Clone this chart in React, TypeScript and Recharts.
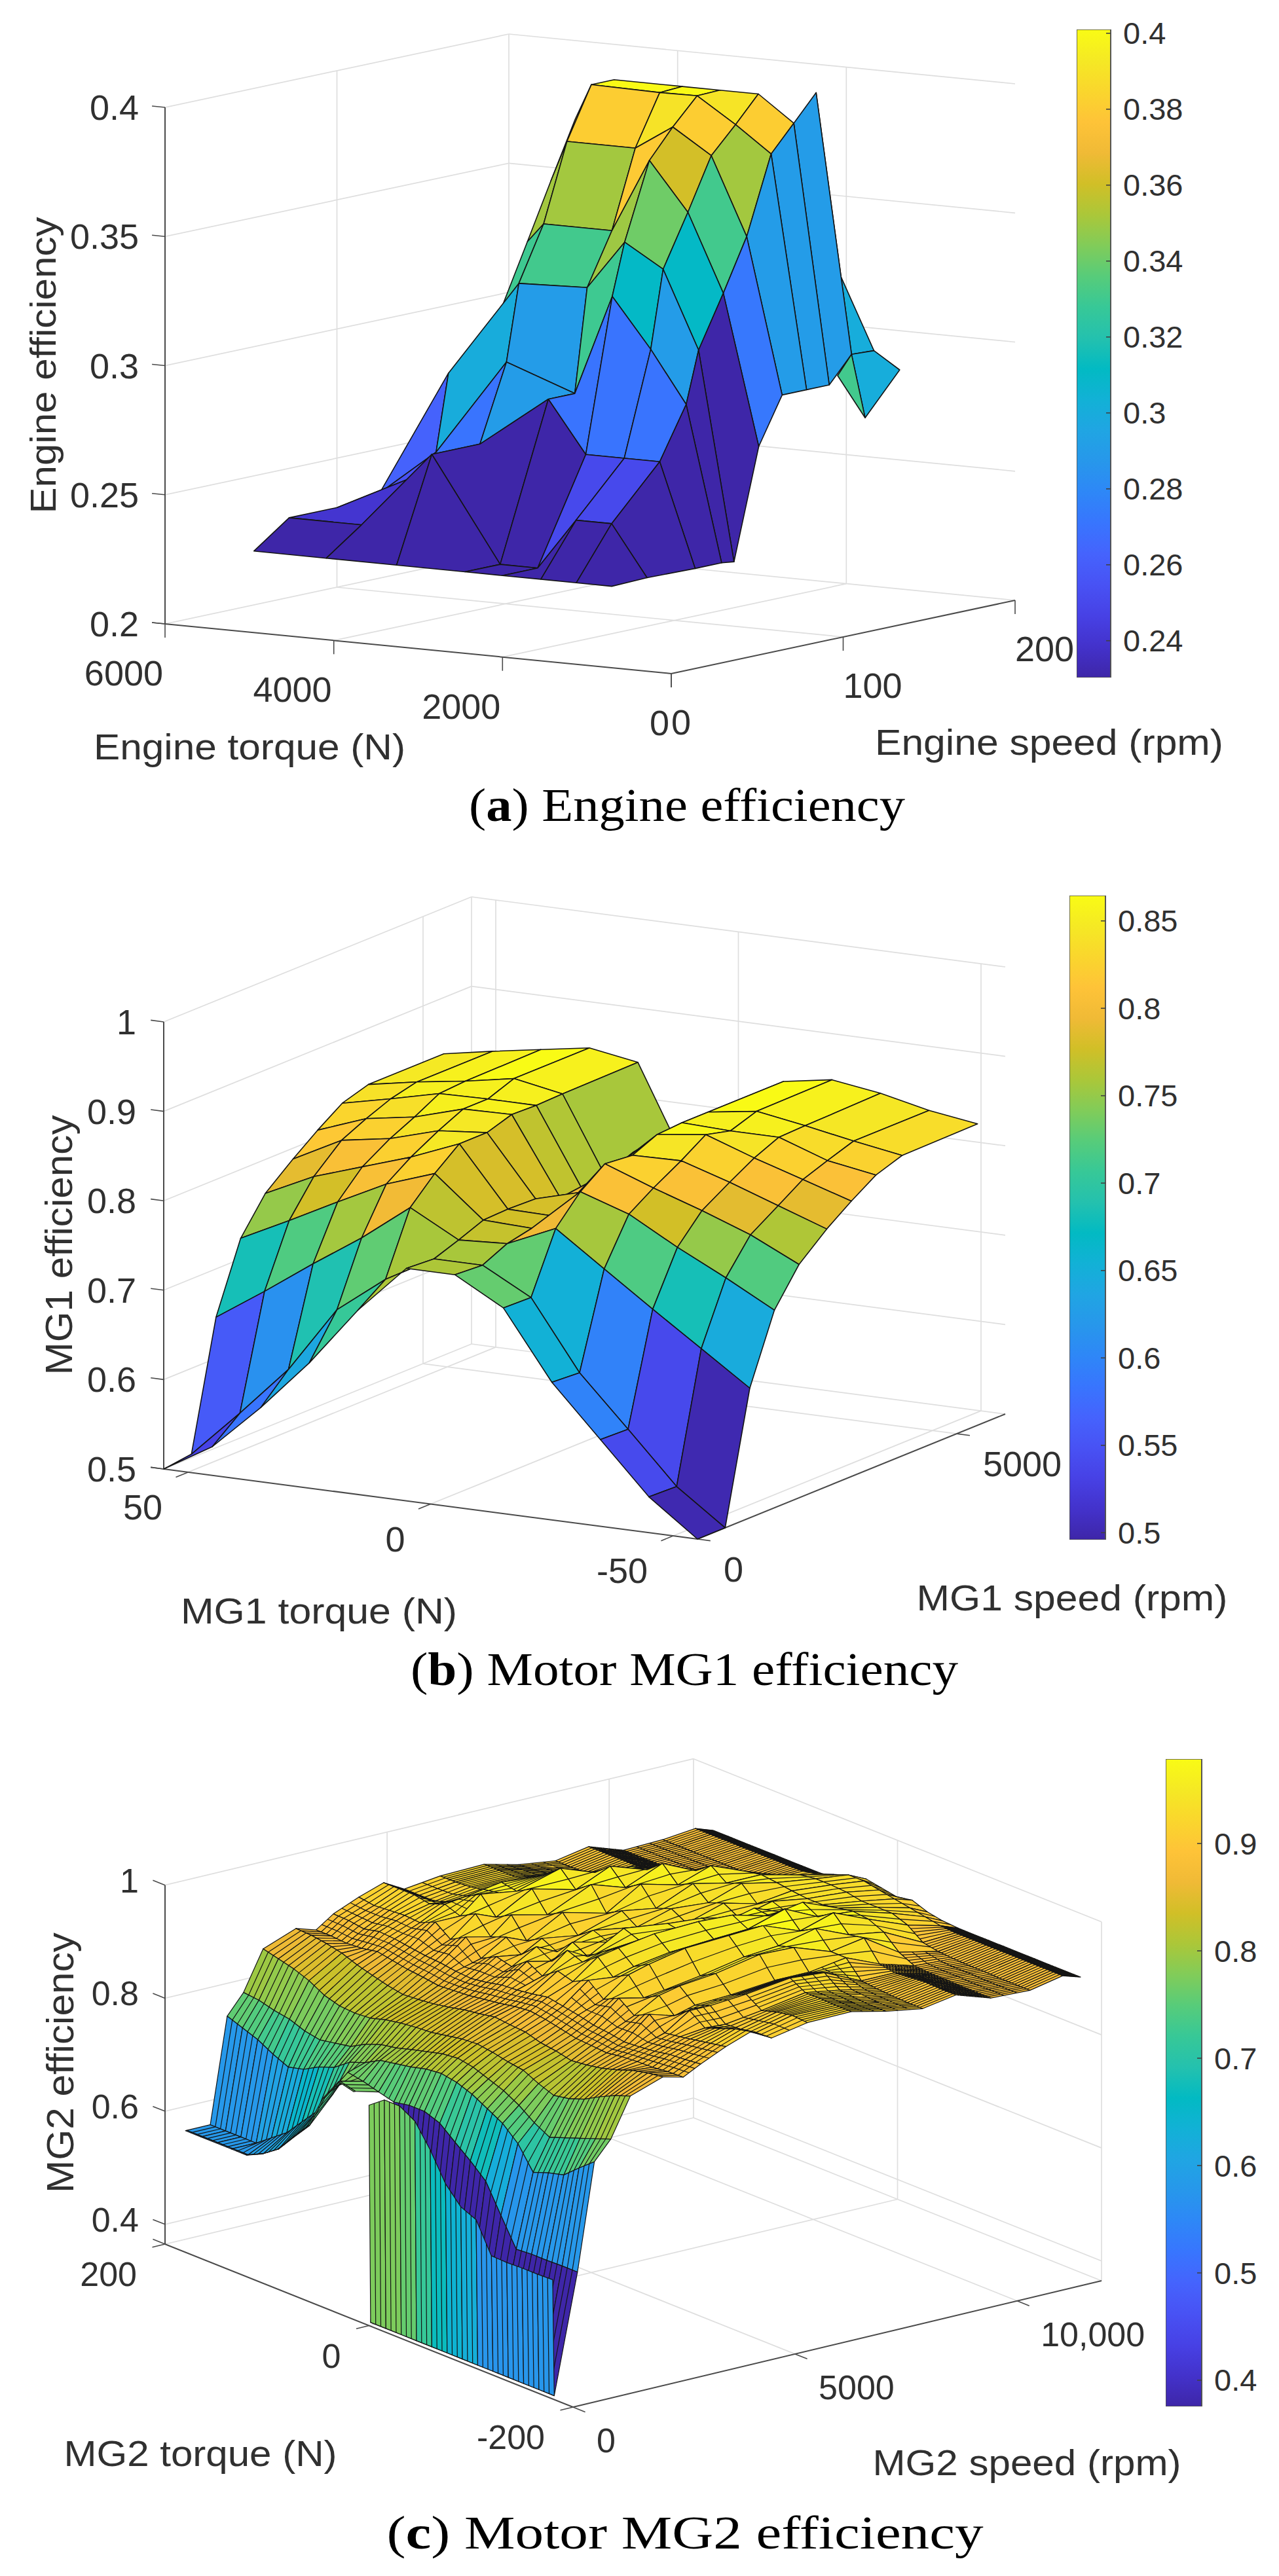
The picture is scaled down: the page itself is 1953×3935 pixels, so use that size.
import React from 'react';
import { ScatterChart, Scatter, XAxis, YAxis, BarChart, Bar } from 'recharts';

const PAGE_W = 1953;
const PAGE_H = 3935;

// ---------- colour map ----------
const parula: number[][] = [
  [0.2422, 0.1504, 0.6603], [0.2647, 0.1978, 0.7952], [0.2783, 0.2559, 0.8991], [0.281, 0.3228, 0.9579],
  [0.2699, 0.3892, 0.9906], [0.2206, 0.4603, 0.9973], [0.1786, 0.5289, 0.9682], [0.154, 0.5902, 0.9218],
  [0.1248, 0.6459, 0.8883], [0.0689, 0.6948, 0.8394], [0.0067, 0.7312, 0.766], [0.1408, 0.7584, 0.6842],
  [0.2161, 0.7843, 0.5923], [0.3406, 0.8008, 0.4789], [0.5044, 0.7993, 0.348], [0.672, 0.7793, 0.2227],
  [0.8203, 0.7498, 0.1535], [0.9393, 0.7288, 0.21], [0.997, 0.7659, 0.2199], [0.9786, 0.8386, 0.1766],
  [0.9597, 0.9135, 0.1423], [0.9769, 0.9839, 0.0805],
];

// ---------- (a) engine ----------
const engineTorque = [858, 1278, 1698, 2154, 2598, 3408, 4242, 5100];
const engineSpeed = [7.5, 28, 56, 71.4, 78.6, 93, 106.6, 120.8, 134, 147, 160];
const N = null;
const engineEfficiency = [
  [0.23, 0.23, 0.23, 0.23, 0.23, 0.23, 0.23, 0.23],
  [0.2304, 0.25, 0.25, 0.23, 0.23, 0.27, 0.24, 0.24],
  [0.23, 0.27, 0.27, 0.27, 0.29, 0.27, 0.254, 0.24],
  [0.23, 0.29, 0.31, 0.329, 0.29, 0.2996, 0.262, 0.239],
  [0.2294, 0.31, 0.34, 0.349, 0.33, 0.329, 0.2916, 0.24],
  [0.272, 0.33, 0.36, 0.3786, 0.35, 0.35, N, N],
  [0.29, 0.35, 0.38, 0.3896, 0.38, 0.38, N, N],
  [0.29, 0.38, 0.39, 0.3997, 0.3995, 0.4, N, N],
  [0.29, 0.39, 0.4, 0.4, 0.4, 0.4, N, N],
  [0.3, 0.4, N, N, N, N, N, N],
  [0.2996, 0.329, N, N, N, N, N, N],
];
const engineBackTorque = [3408, 3600];
const engineBackSpeed = [78.6, 93, 106.6, 120.8];
const engineBackEfficiency = [
  [0.329, 0.32],
  [0.35, 0.3425],
  [0.38, 0.364],
  [0.4, 0.386],
];
const engineTipQuadTorque = [858, 858, 300, 300];
const engineTipQuadSpeed = [147, 160, 147.6, 127.5];
const engineTipQuadEff = [0.3, 0.2996, 0.2957, 0.28];
const engineTipTriTorque = [300, 858, 300];
const engineTipTriSpeed = [111.5, 147, 127.5];
const engineTipTriEff = [0.2986, 0.3, 0.28];

// ---------- (b) MG1 ----------
const mg1Torque = [-55, -45, -35, -25, -15, -5, 5, 15, 25, 35, 45, 55];
const mg1Speed = [0, 534, 1009, 1484, 1958, 2492, 2967, 3442, 3946, 5400];
const mg1Efficiency = [
  [0.5, 0.54, 0.597, 0.654, 0.73, 0.76, 0.76, 0.706, 0.64, 0.583, 0.532, 0.5],
  [0.5, 0.539, 0.596, 0.652, 0.729, 0.758, 0.758, 0.728, 0.687, 0.613, 0.557, 0.504],
  [0.645, 0.682, 0.719, 0.757, 0.795, 0.771, 0.768, 0.797, 0.756, 0.72, 0.682, 0.646],
  [0.721, 0.75, 0.777, 0.807, 0.825, 0.777, 0.779, 0.824, 0.805, 0.778, 0.75, 0.723],
  [0.761, 0.787, 0.807, 0.825, 0.845, 0.779, 0.78, 0.846, 0.824, 0.806, 0.788, 0.762],
  [0.788, 0.807, 0.826, 0.843, 0.842, 0.794, 0.779, 0.846, 0.841, 0.825, 0.816, 0.788],
  [0.808, 0.825, 0.842, 0.861, 0.854, 0.805, 0.769, 0.855, 0.854, 0.838, 0.829, 0.809],
  [0.826, 0.835, 0.854, 0.854, 0.856, 0.816, 0.762, 0.854, 0.854, 0.853, 0.84, 0.828],
  [0.836, 0.845, 0.855, 0.864, 0.856, 0.815, 0.758, 0.855, 0.865, 0.855, 0.847, 0.837],
  [0.837, 0.845, 0.857, 0.865, 0.856, 0.813, 0.75, 0.856, 0.865, 0.856, 0.847, 0.837],
];

// ---------- (c) MG2 ----------
const mg2Torque = [-180, -165, -150, -135, -120, -105, -90, -75, -60, -45, -30, -15, 0, 15, 30, 45, 60, 75, 90, 105, 120, 135, 150, 165, 180];
const mg2Speed = [0, 36, 559, 940, 1309, 1749, 2487, 2939, 3332, 3903, 4463, 4927, 5736, 6724, 7497, 8330, 9080, 9865, 10746, 11484, 11888];
const mg2EfficiencyPermille = [
  [576, 575, 575, 574, 575, 628, 640, 670, 719, 759, 775, 775, 755, 768, 775, 735, 675, 644, 612, 593, 580, 580, 580, 580, 580],
  [370, 370, 370, 370, 370, 370, 370, 370, 370, 370, 370, 370, 370, 768, 775, 735, 675, 644, 612, 593, 580, 580, 580, 580, 580],
  [579, 579, 578, 578, 576, 625, 675, 700, 722, 745, 755, 755, 750, 757, 765, 770, 720, 680, 650, 620, 600, 580, 580, 580, 580],
  [767, 745, 722, 715, 705, 745, 770, 785, 800, 810, 815, 812, 805, 800, 795, 780, 770, 750, 740, 725, 718, 730, 745, 755, 765],
  [800, 790, 780, 770, 760, 775, 795, 810, 820, 830, 835, 832, 825, 818, 810, 805, 795, 780, 775, 770, 775, 785, 790, 797, 800],
  [868, 858, 845, 830, 820, 815, 825, 838, 842, 848, 852, 850, 845, 840, 838, 835, 830, 822, 820, 822, 830, 845, 855, 862, 869],
  [888, 884, 878, 868, 860, 855, 852, 858, 862, 870, 872, 875, 870, 866, 860, 855, 852, 850, 855, 862, 870, 880, 886, 890, 891],
  [879, 878, 875, 874, 872, 868, 870, 872, 878, 884, 888, 885, 880, 876, 872, 870, 868, 872, 875, 880, 885, 880, 878, 880, 880],
  [895, 892, 890, 885, 882, 880, 885, 888, 895, 900, 905, 900, 896, 894, 888, 884, 886, 890, 892, 896, 900, 902, 896, 900, 901],
  [915, 910, 905, 900, 896, 918, 905, 925, 912, 935, 922, 930, 910, 925, 905, 912, 898, 925, 910, 930, 918, 920, 918, 916, 920],
  [931, 925, 915, 905, 925, 905, 930, 915, 945, 930, 955, 935, 945, 915, 930, 905, 925, 915, 945, 930, 940, 930, 935, 935, 935],
  [911, 910, 905, 903, 925, 915, 938, 920, 955, 940, 962, 945, 925, 940, 912, 925, 910, 945, 930, 960, 945, 925, 915, 915, 915],
  [923, 925, 920, 912, 930, 918, 945, 930, 968, 950, 972, 950, 960, 925, 935, 915, 945, 930, 965, 950, 955, 930, 925, 923, 923],
  [924, 924, 925, 925, 940, 925, 960, 945, 972, 955, 975, 945, 950, 930, 922, 940, 925, 965, 945, 972, 950, 930, 925, 925, 925],
  [910, 910, 912, 915, 935, 925, 958, 950, 975, 958, 972, 942, 945, 925, 940, 930, 962, 945, 972, 950, 940, 925, 915, 912, 910],
  [899, 899, 900, 902, 905, 935, 935, 965, 950, 978, 955, 958, 930, 945, 935, 958, 945, 972, 950, 945, 925, 908, 902, 901, 901],
  [909, 909, 910, 908, 905, 910, 945, 940, 968, 950, 965, 935, 945, 930, 955, 945, 965, 945, 940, 925, 915, 912, 912, 912, 912],
  [889, 889, 889, 890, 890, 892, 905, 930, 942, 945, 940, 935, 935, 938, 942, 945, 940, 925, 905, 895, 892, 891, 891, 891, 891],
  [886, 886, 886, 887, 887, 888, 890, 895, 915, 925, 925, 925, 930, 932, 932, 928, 915, 898, 893, 893, 893, 893, 893, 893, 893],
  [898, 898, 898, 898, 898, 898, 898, 898, 900, 905, 910, 915, 920, 925, 925, 915, 905, 899, 899, 899, 899, 899, 899, 899, 899],
  [888, 888, 888, 888, 888, 888, 888, 888, 888, 890, 895, 905, 900, 905, 910, 900, 892, 888, 888, 888, 888, 888, 888, 888, 888],
];
const mg2BandDensity = [0, 0, 0, 0, 0, 0, 0, 3, 3, 0, 3, 2, 0, 3, 3, 0, 12, 3, 0, 12];

// ---------- tick labels ----------
const aTorqueTicks = [6000, 4000, 2000, 0];
const aSpeedTicks = [0, 100, 200];
const aEffTicks = [0.2, 0.25, 0.3, 0.35, 0.4];
const aBarTicks = [0.24, 0.26, 0.28, 0.3, 0.32, 0.34, 0.36, 0.38, 0.4];
const bTorqueTicks = [50, 0, -50];
const bSpeedTicks = [0, 5000];
const bEffTicks = [0.5, 0.6, 0.7, 0.8, 0.9, 1];
const bBarTicks = [0.5, 0.55, 0.6, 0.65, 0.7, 0.75, 0.8, 0.85];
const cTorqueTicks = [200, 0, -200];
const cSpeedTicks = [0, 5000, 10000];
const cSpeedLabels = ['0', '5000', '10,000'];
const cEffTicks = [0.4, 0.6, 0.8, 1];
const cBarTicks = [0.4, 0.5, 0.6, 0.7, 0.8, 0.9];

// ---------- projection ----------
type Pt = { x: number; y: number };
const views = {
  a: { o: { x: 1025, y: 1029 }, tv: { x: -773, y: -76 }, sv: { x: 525, y: -112 }, zPx: 3945, zFloor: 0.2, zTop: 0.4, tMin: 0, tMax: 6000, sMax: 200 },
  b: { o: { x: 1065, y: 2351 }, tv: { x: -815, y: -107 }, sv: { x: 470, y: -191 }, zPx: 1366, zFloor: 0.5, zTop: 1, tMin: -55, tMax: 55, sMax: 5934 },
  c: { o: { x: 875, y: 3677 }, tv: { x: -623, y: -249 }, sv: { x: 807, y: -193 }, zPx: 863.5, zFloor: 0.365, zTop: 1, tMin: -200, tMax: 200, sMax: 11900 },
};
type View = typeof views.a;
const project = (v: View, t: number, s: number, z: number): Pt => {
  const tf = (t - v.tMin) / (v.tMax - v.tMin);
  const sf = s / v.sMax;
  return {
    x: v.o.x + v.tv.x * tf + v.sv.x * sf,
    y: v.o.y + v.tv.y * tf + v.sv.y * sf - v.zPx * (z - v.zFloor),
  };
};

const colorOf = (z: number, lo: number, hi: number) => {
  const f = Math.max(0, Math.min(1, (z - lo) / (hi - lo))) * (parula.length - 1);
  const i = Math.min(parula.length - 2, Math.floor(f));
  const u = f - i;
  const c = parula[i].map((p, n) => Math.round(255 * (p + (parula[i + 1][n] - p) * u)));
  return `rgb(${c[0]},${c[1]},${c[2]})`;
};

// ---------- chart entries ----------
const centre = (pts: Pt[]) => ({
  x: pts.reduce((a, p) => a + p.x, 0) / pts.length,
  y: pts.reduce((a, p) => a + p.y, 0) / pts.length,
});
const lerp = (a: Pt, b: Pt, u: number) => ({ x: a.x + (b.x - a.x) * u, y: a.y + (b.y - a.y) * u });

const polyEntry = (pts: Pt[], fill: string, sw: number, hatch: [Pt, Pt][] = []) => ({ ...centre(pts), kind: 'poly', pts, fill, sw, hatch });
const lineEntry = (a: Pt, b: Pt, stroke: string, sw: number) => ({ ...centre([a, b]), kind: 'line', pts: [a, b], stroke, sw });
const textEntry = (x: number, y: number, parts: any[], o: any = {}) => ({ x, y, kind: 'text', parts, ...o });

function surface(
  v: View, ts: number[], ss: number[], zz: (number | null)[][], lo: number, hi: number, sw: number,
  hatchOf?: (i: number, k: number, z: number) => [number, number],
  skip?: (i: number, k: number) => boolean,
) {
  const out: any[] = [];
  for (let i = ss.length - 2; i >= 0; i--) {
    for (let k = ts.length - 2; k >= 0; k--) {
      const c = [zz[i][k], zz[i][k + 1], zz[i + 1][k + 1], zz[i + 1][k]];
      if (c.some((q) => q === null) || (skip && skip(i, k))) continue;
      const p00 = project(v, ts[k], ss[i], c[0] as number);
      const p01 = project(v, ts[k + 1], ss[i], c[1] as number);
      const p11 = project(v, ts[k + 1], ss[i + 1], c[2] as number);
      const p10 = project(v, ts[k], ss[i + 1], c[3] as number);
      const hatch: [Pt, Pt][] = [];
      if (hatchOf) {
        const [ha, hb] = hatchOf(i, k, c[0] as number);
        for (let j = 1; j < ha; j++) hatch.push([lerp(p00, p01, j / ha), lerp(p10, p11, j / ha)]);
        for (let j = 1; j < hb; j++) hatch.push([lerp(p00, p10, j / hb), lerp(p01, p11, j / hb)]);
      }
      out.push(polyEntry([p00, p01, p11, p10], colorOf(c[0] as number, lo, hi), sw, hatch));
    }
  }
  return out;
}

const GRID = '#dedede';
const AXIS = '#4a4a4a';
function frame(
  v: View, tGrid: number[], sGrid: number[], zGrid: number[], wallT: number[],
) {
  const g: any[] = [];
  const P = (t: number, s: number, z: number) => project(v, t, s, z);
  const add = (a: Pt, b: Pt) => g.push(lineEntry(a, b, GRID, 1.7));
  const F = v.zFloor;
  tGrid.forEach((t) => add(P(t, 0, F), P(t, v.sMax, F)));
  sGrid.forEach((s) => add(P(v.tMin, s, F), P(v.tMax, s, F)));
  add(P(v.tMax, 0, F), P(v.tMax, v.sMax, F));
  add(P(v.tMin, v.sMax, F), P(v.tMax, v.sMax, F));
  zGrid.forEach((z) => {
    add(P(v.tMax, 0, z), P(v.tMax, v.sMax, z));
    add(P(v.tMin, v.sMax, z), P(v.tMax, v.sMax, z));
  });
  sGrid.forEach((s) => add(P(v.tMax, s, F), P(v.tMax, s, v.zTop)));
  add(P(v.tMax, v.sMax, F), P(v.tMax, v.sMax, v.zTop));
  wallT.forEach((t) => add(P(t, v.sMax, F), P(t, v.sMax, v.zTop)));
  return g;
}

function axes(
  v: View, tTicks: number[], sTicks: number[], zTicks: number[], verticalTicks: boolean,
  tLab: (n: number) => string, sLab: (n: number, i: number) => string,
  tOff: Pt, sOff: Pt, zEnd: number, zDy: number, size: number,
) {
  const lines: any[] = [];
  const texts: any[] = [];
  const P = (t: number, s: number, z: number) => project(v, t, s, z);
  const F = v.zFloor;
  const L = 2;
  lines.push(lineEntry(P(v.tMax, 0, F), P(v.tMax, 0, v.zTop), AXIS, L));
  lines.push(lineEntry(P(v.tMax, 0, F), P(v.tMin, 0, F), AXIS, L));
  lines.push(lineEntry(P(v.tMin, 0, F), P(v.tMin, v.sMax, F), AXIS, L));
  const unit = (d: Pt, len: number) => {
    const m = Math.hypot(d.x, d.y);
    return { x: (d.x / m) * len, y: (d.y / m) * len };
  };
  const zt = unit(v.tv, 20);
  const tt = verticalTicks ? { x: 0, y: 21 } : unit({ x: -v.sv.x, y: -v.sv.y }, 20);
  const st = verticalTicks ? { x: 0, y: 21 } : unit({ x: -v.tv.x, y: -v.tv.y }, 20);
  zTicks.forEach((z) => {
    const a = P(v.tMax, 0, z);
    lines.push(lineEntry(a, { x: a.x + zt.x, y: a.y + zt.y }, AXIS, 1.6));
    texts.push(textEntry(zEnd, a.y + zDy, [String(z)], { anchor: 'end', size }));
  });
  const f = P(v.tMax, 0, F);
  lines.push(lineEntry(f, { x: f.x + zt.x, y: f.y + zt.y }, AXIS, 1.6));
  tTicks.forEach((t) => {
    const a = P(t, 0, F);
    lines.push(lineEntry(a, { x: a.x + tt.x, y: a.y + tt.y }, AXIS, 1.6));
    texts.push(textEntry(a.x + tOff.x, a.y + tOff.y, [tLab(t)], { anchor: 'end', size }));
  });
  sTicks.forEach((s, i) => {
    const a = P(v.tMin, s, F);
    lines.push(lineEntry(a, { x: a.x + st.x, y: a.y + st.y }, AXIS, 1.6));
    texts.push(textEntry(a.x + sOff.x, a.y + sOff.y, [sLab(s, i)], { anchor: 'start', size }));
  });
  return { lines, texts };
}

// ---------- build panels ----------
const vA = views.a;
const vB = views.b;
const vC = views.c;

const gridEntries = [
  ...frame(vA, [4000, 2000], [100], aEffTicks.slice(1), [4000, 2000]),
  ...frame(vB, [50, 0, -50], [5000], bEffTicks.slice(1), [50, 0, -50]),
  ...frame(vC, [0], [5000, 10000], cEffTicks, [0, -200]),
];

const axA = axes(vA, aTorqueTicks.map((n) => n), aSpeedTicks, aEffTicks, true, (n) => String(n), (n) => String(n), { x: -3, y: 75 }, { x: 0, y: 74 }, 212, 0, 54);
const axB = axes(vB, bTorqueTicks, bSpeedTicks, bEffTicks, false, (n) => String(n), (n) => String(n), { x: -39, y: 53 }, { x: 40, y: 46 }, 208, 0, 54);
const axC = axes(vC, cTorqueTicks, cSpeedTicks, cEffTicks, false, (n) => String(n), (_n, i) => cSpeedLabels[i], { x: -43, y: 46 }, { x: 36, y: 51 }, 212, -7, 52);

const tipPoly = (ts: number[], ss: number[], zs: number[], colorZ: number) =>
  polyEntry(ts.map((t, i) => project(vA, t, ss[i], zs[i])), colorOf(colorZ, 0.2303, 0.4), 1.6);

const surfaceEntries = [
  ...surface(vA, engineBackTorque, engineBackSpeed, engineBackEfficiency, 0.2303, 0.4, 1.6),
  ...surface(vA, engineTorque, engineSpeed, engineEfficiency, 0.2303, 0.4, 1.6),
  tipPoly(engineTipQuadTorque, engineTipQuadSpeed, engineTipQuadEff, 0.3),
  tipPoly(engineTipTriTorque, engineTipTriSpeed, engineTipTriEff, 0.33),
  ...surface(vB, mg1Torque, mg1Speed, mg1Efficiency, 0.496, 0.8645, 1.6),
  ...surface(
    vC, mg2Torque, mg2Speed, mg2EfficiencyPermille.map((r) => r.map((q) => q / 1000)), 0.3756, 0.9787, 1.2,
    (i, k, z) => {
      if (i <= 1) return [3, 0];
      if (z >= 0.9 && i >= 5 && k >= 5 && k <= 18) return [2, 1];
      return [mg2Speed[i] >= 5700 ? 5 : 3, mg2BandDensity[i]];
    },
    (i, k) => i <= 1 && k === 12,
  ),
];

const SERIF = '"Liberation Serif", serif';
const titleEntries = [
  textEntry(65, 558, ['Engine efficiency'], { rot: true, size: 56, len: 453 }),
  textEntry(381, 1140, ['Engine torque (N)'], { size: 56, len: 476 }),
  textEntry(1602, 1133, ['Engine speed (rpm)'], { size: 56, len: 532 }),
  textEntry(1049, 1254, ['(', { b: 'a' }, ') Engine efficiency'], { size: 72, len: 666, family: SERIF, color: '#000', base: true }),
  textEntry(89, 1902, ['MG1 efficiency'], { rot: true, size: 58, len: 397 }),
  textEntry(487, 2460, ['MG1 torque (N)'], { size: 56, len: 422 }),
  textEntry(1637, 2440, ['MG1 speed (rpm)'], { size: 56, len: 475 }),
  textEntry(1045, 2574, ['(', { b: 'b' }, ') Motor MG1 efficiency'], { size: 72, len: 836, family: SERIF, color: '#000', base: true }),
  textEntry(91, 3151, ['MG2 efficiency'], { rot: true, size: 58, len: 398 }),
  textEntry(306, 3747, ['MG2 torque (N)'], { size: 56, len: 417 }),
  textEntry(1568, 3761, ['MG2 speed (rpm)'], { size: 56, len: 471 }),
  textEntry(1046, 3893, ['(', { b: 'c' }, ') Motor MG2 efficiency'], { size: 72, len: 911, family: SERIF, color: '#000', base: true }),
];

const axisLineEntries = [...axA.lines, ...axB.lines, ...axC.lines];
const textEntries = [...axA.texts, ...axB.texts, ...axC.texts, ...titleEntries];

// ---------- shapes ----------
const toD = (pts: Pt[], dx: number, dy: number, close = false) =>
  pts.map((p, i) => `${i ? 'L' : 'M'}${(p.x + dx).toFixed(1)} ${(p.y + dy).toFixed(1)}`).join('') + (close ? 'Z' : '');

function Mark(props: any) {
  const { cx, cy, payload: e } = props;
  const dx = cx - e.x;
  const dy = cy - e.y;
  if (e.kind === 'poly') {
    return (
      <g>
        <path d={toD(e.pts, dx, dy, true)} fill={e.fill} stroke="#141414" strokeWidth={e.sw} strokeLinejoin="round" />
        {e.hatch.length > 0 && (
          <path d={e.hatch.map((h: Pt[]) => toD(h, dx, dy)).join('')} fill="none" stroke="#141414" strokeWidth={e.sw} />
        )}
      </g>
    );
  }
  if (e.kind === 'line') {
    return <path d={toD(e.pts, dx, dy)} fill="none" stroke={e.stroke} strokeWidth={e.sw} />;
  }
  const attrs: any = {
    x: cx,
    y: cy,
    fontFamily: e.family || '"Liberation Sans", Arial, sans-serif',
    fontSize: e.size,
    fill: e.color || '#303030',
    textAnchor: e.anchor || 'middle',
    dominantBaseline: e.base ? 'auto' : 'central',
  };
  if (e.len) {
    attrs.textLength = e.len;
    attrs.lengthAdjust = 'spacingAndGlyphs';
  }
  if (e.rot) attrs.transform = `rotate(-90 ${cx} ${cy})`;
  return (
    <text {...attrs}>
      {e.parts.map((p: any, i: number) =>
        typeof p === 'string' ? <tspan key={i}>{p}</tspan> : <tspan key={i} fontWeight="bold">{p.b}</tspan>,
      )}
    </text>
  );
}

// ---------- colour bars ----------
function Colorbar({ id, left, top, width, height, lo, hi, ticks }: any) {
  const AXW = 140;
  const PAD = 40;
  const tick = (p: any) => (
    <g>
      <line x1={width - 7} x2={width} y1={p.y} y2={p.y} stroke="#404040" strokeWidth={1.6} />
      <text x={width + 19} y={p.y} fontFamily='"Liberation Sans", Arial, sans-serif' fontSize={47} fill="#303030" dominantBaseline="central">
        {String(p.payload.value)}
      </text>
    </g>
  );
  return (
    <div style={{ position: 'absolute', left, top: top - PAD }}>
      <BarChart width={width + AXW} height={height + 2 * PAD} data={[{ name: 'scale', value: hi }]} margin={{ top: PAD, right: 0, bottom: PAD, left: 0 }} barCategoryGap={0}>
        <defs>
          <linearGradient id={id} x1="0" y1="1" x2="0" y2="0">
            {parula.map((c, i) => (
              <stop key={i} offset={i / (parula.length - 1)} stopColor={`rgb(${c.map((q) => Math.round(q * 255)).join(',')})`} />
            ))}
          </linearGradient>
        </defs>
        <XAxis dataKey="name" hide />
        <YAxis orientation="right" type="number" width={AXW} domain={[lo, hi]} ticks={ticks} interval={0} tick={tick} tickLine={false} axisLine={{ stroke: '#505050', strokeWidth: 1.6 }} allowDataOverflow />
        <Bar dataKey="value" fill={`url(#${id})`} stroke="#505050" strokeWidth={1.6} isAnimationActive={false} />
      </BarChart>
    </div>
  );
}

export default function App() {
  return (
    <div style={{ position: 'absolute', left: 0, top: 0, width: PAGE_W, height: PAGE_H, background: '#fff' }}>
      <ScatterChart width={PAGE_W} height={PAGE_H} margin={{ top: 0, right: 0, bottom: 0, left: 0 }}>
        <XAxis type="number" dataKey="x" domain={[0, PAGE_W]} hide />
        <YAxis type="number" dataKey="y" domain={[0, PAGE_H]} reversed hide />
        <Scatter data={gridEntries} shape={Mark} isAnimationActive={false} />
        <Scatter data={axisLineEntries} shape={Mark} isAnimationActive={false} />
        <Scatter data={surfaceEntries} shape={Mark} isAnimationActive={false} />
        <Scatter data={textEntries} shape={Mark} isAnimationActive={false} />
      </ScatterChart>
      <Colorbar id="cbA" left={1644} top={45} width={52} height={990} lo={0.2303} hi={0.401} ticks={aBarTicks} />
      <Colorbar id="cbB" left={1633} top={1368} width={55} height={984} lo={0.496} hi={0.8645} ticks={bBarTicks} />
      <Colorbar id="cbC" left={1780} top={2687} width={55} height={989} lo={0.3756} hi={0.9787} ticks={cBarTicks} />
    </div>
  );
}
